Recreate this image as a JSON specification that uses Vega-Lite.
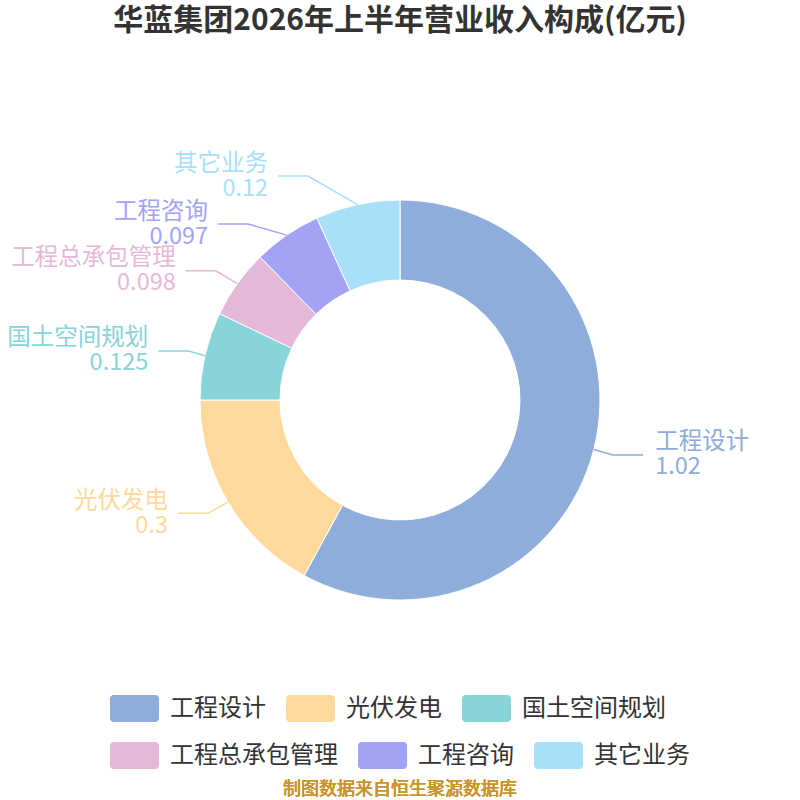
{
  "$schema": "https://vega.github.io/schema/vega-lite/v6.json",
  "width": 800,
  "height": 800,
  "autosize": {"type": "none"},
  "padding": 0,
  "background": "#ffffff",
  "title": {
    "text": "华蓝集团2026年上半年营业收入构成(亿元)",
    "font": "Noto Sans CJK SC",
    "fontSize": 30,
    "fontWeight": "bold",
    "color": "#333333",
    "anchor": "middle",
    "frame": "group",
    "baseline": "middle",
    "offset": -22,
    "dy": 29
  },
  "config": {
    "view": {"stroke": null},
    "font": "Noto Sans CJK SC",
    "legend": {
      "title": null,
      "orient": "none",
      "direction": "horizontal",
      "columns": 3,
      "symbolType": "M-0.85,-0.551H0.85A0.15,0.15 0 0 1 1,-0.401V0.401A0.15,0.15 0 0 1 0.85,0.551H-0.85A0.15,0.15 0 0 1 -1,0.401V-0.401A0.15,0.15 0 0 1 -0.85,-0.551Z",
      "symbolSize": 2401,
      "symbolOpacity": 1,
      "symbolStrokeWidth": 0,
      "labelFont": "Noto Sans CJK SC",
      "labelFontSize": 24,
      "labelColor": "#333333",
      "labelOffset": 11,
      "labelLimit": 400,
      "columnPadding": 20
    }
  },
  "data": {
    "values": [
      {"name": "工程设计", "value": 1.02},
      {"name": "光伏发电", "value": 0.3},
      {"name": "国土空间规划", "value": 0.125},
      {"name": "工程总承包管理", "value": 0.098},
      {"name": "工程咨询", "value": 0.097},
      {"name": "其它业务", "value": 0.12}
    ]
  },
  "transform": [
    {"window": [{"op": "sum", "field": "value", "as": "cum"}], "frame": [null, 0]},
    {"joinaggregate": [{"op": "sum", "field": "value", "as": "total"}]},
    {"calculate": "(datum.cum - datum.value / 2) / datum.total * 2 * PI", "as": "a"},
    {"calculate": "sin(datum.a)", "as": "sx"},
    {"calculate": "cos(datum.a)", "as": "cy"},
    {"calculate": "datum.sx > 0 ? 1 : -1", "as": "side"},
    {"calculate": "200 * datum.sx", "as": "x0"},
    {"calculate": "200 * datum.cy", "as": "y0"},
    {"calculate": "222 * datum.cy", "as": "y1"},
    {
      "window": [
        {"op": "lag", "field": "y1", "as": "yPrev"},
        {"op": "lead", "field": "y1", "as": "yNext"}
      ],
      "groupby": ["side"],
      "sort": [{"field": "y1", "order": "descending"}]
    },
    {"calculate": "datum.y1 - (datum.yPrev != null ? max(0, (48 - (datum.yPrev - datum.y1)) / 2) : 0) + (datum.yNext != null ? max(0, (48 - (datum.y1 - datum.yNext)) / 2) : 0)", "as": "ys"},
    {"calculate": "datum.side < 0 ? -216 * sqrt(max(0, 1 - pow(datum.ys / 247.5, 2))) : 220 * sqrt(max(0, 1 - pow(datum.ys / 222, 2)))", "as": "x1"},
    {"calculate": "datum.x1 + datum.side * 30", "as": "x2"},
    {"calculate": "datum.x2 + (datum.side < 0 ? -10 : 12)", "as": "xt"}
  ],
  "layer": [
    {
      "mark": {"type": "arc", "outerRadius": 200, "innerRadius": 120, "stroke": "#ffffff", "strokeWidth": 1},
      "encoding": {
        "theta": {"field": "value", "type": "quantitative", "stack": true},
        "order": {"field": "cum", "type": "quantitative"},
        "color": {
          "field": "name",
          "type": "nominal",
          "scale": {
            "domain": ["工程设计", "光伏发电", "国土空间规划", "工程总承包管理", "工程咨询", "其它业务"],
            "range": ["#8fadda", "#fed99b", "#87d5d8", "#e6b8d8", "#a2a3f5", "#a8dff9"]
          },
          "legend": {
            "values": ["工程设计", "光伏发电", "国土空间规划"],
            "legendX": 110,
            "legendY": 684
          }
        }
      }
    },
    {
      "transform": [
        {"calculate": "[datum.x0, datum.x1, datum.x2]", "as": "px"},
        {"calculate": "[datum.y0, datum.ys, datum.ys]", "as": "py"},
        {"flatten": ["px", "py"]}
      ],
      "mark": {"type": "line", "strokeWidth": 1.5},
      "encoding": {
        "x": {
          "field": "px",
          "type": "quantitative",
          "scale": {"domain": [-400, 400], "nice": false, "zero": false},
          "axis": null
        },
        "y": {
          "field": "py",
          "type": "quantitative",
          "scale": {"domain": [-400, 400], "nice": false, "zero": false},
          "axis": null
        },
        "detail": {"field": "name"},
        "color": {"field": "name", "type": "nominal", "legend": null}
      }
    },
    {
      "transform": [{"calculate": "datum.ys + 12.5", "as": "yn"}],
      "mark": {
        "type": "text",
        "fontSize": 23.5,
        "baseline": "middle",
        "align": {"expr": "datum.sx > 0 ? 'left' : 'right'"}
      },
      "encoding": {
        "x": {"field": "xt", "type": "quantitative", "axis": null},
        "y": {"field": "yn", "type": "quantitative", "axis": null},
        "text": {"field": "name", "type": "nominal"},
        "fill": {
          "field": "name",
          "type": "nominal",
          "scale": {
            "domain": ["工程总承包管理", "工程咨询", "其它业务", "工程设计", "光伏发电", "国土空间规划"],
            "range": ["#e6b8d8", "#a2a3f5", "#a8dff9", "#8fadda", "#fed99b", "#87d5d8"]
          },
          "legend": {
            "values": ["工程总承包管理", "工程咨询", "其它业务"],
            "legendX": 110,
            "legendY": 731
          }
        }
      }
    },
    {
      "transform": [{"calculate": "datum.ys - 12.5", "as": "yv"}],
      "mark": {
        "type": "text",
        "fontSize": 23.5,
        "baseline": "middle",
        "align": {"expr": "datum.sx > 0 ? 'left' : 'right'"}
      },
      "encoding": {
        "x": {"field": "xt", "type": "quantitative", "axis": null},
        "y": {"field": "yv", "type": "quantitative", "axis": null},
        "text": {"field": "value", "type": "nominal"},
        "fill": {"field": "name", "type": "nominal", "legend": null}
      }
    },
    {
      "mark": {
        "type": "text",
        "text": "制图数据来自恒生聚源数据库",
        "fontSize": 18,
        "fontWeight": "normal",
        "color": "#c9962b",
        "baseline": "middle",
        "align": "center"
      },
      "encoding": {
        "x": {"datum": 0, "type": "quantitative", "axis": null},
        "y": {"datum": -390, "type": "quantitative", "axis": null}
      }
    }
  ]
}
